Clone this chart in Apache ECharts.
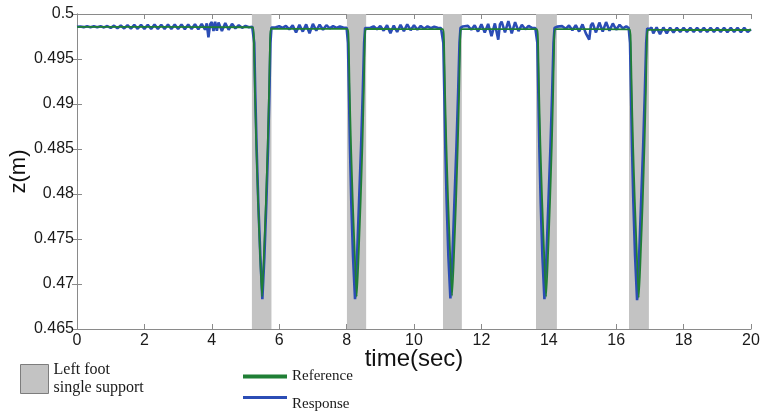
<!DOCTYPE html>
<html>
<head>
<meta charset="utf-8">
<script src="https://cdn.jsdelivr.net/npm/echarts@6/dist/echarts.min.js"></script>
<style>
  html, body { margin: 0; padding: 0; background: #fff; }
  #chart { width: 765px; height: 416px; }
</style>
</head>
<body>
<div id="chart"></div>
<script>
// left foot single support phases (sec)
const shadeStart = [5.19, 8.01, 10.86, 13.62, 16.38];
const shadeEnd   = [5.77, 8.58, 11.42, 14.24, 16.97];

// reference z trajectory
const refT = [0, 2.5, 5.0, 5.22,
  5.25, 5.28, 5.32, 5.37, 5.43, 5.49, 5.55, 5.61, 5.66, 5.70, 5.73, 5.76,
  6.5, 7.3, 8.03,
  8.06, 8.09, 8.13, 8.18, 8.24, 8.30, 8.36, 8.42, 8.47, 8.51, 8.54, 8.57,
  9.5, 10.2, 10.86,
  10.89, 10.92, 10.96, 11.01, 11.07, 11.13, 11.19, 11.25, 11.30, 11.34, 11.37, 11.40,
  12.5, 13.65,
  13.68, 13.71, 13.75, 13.80, 13.86, 13.92, 13.98, 14.04, 14.09, 14.13, 14.16, 14.19,
  15.3, 16.40,
  16.43, 16.46, 16.50, 16.55, 16.61, 16.67, 16.73, 16.79, 16.84, 16.88, 16.91, 16.94,
  18.0, 20.0];
const refZ = [0.49858, 0.49856, 0.49853, 0.49852,
  0.4970, 0.4915, 0.4855, 0.4795, 0.4735, 0.4686, 0.4735, 0.4795, 0.4855, 0.4915, 0.4970, 0.49836,
  0.49835, 0.49835, 0.49835,
  0.4970, 0.4915, 0.4855, 0.4795, 0.4735, 0.4686, 0.4735, 0.4795, 0.4855, 0.4915, 0.4970, 0.49834,
  0.49833, 0.49833, 0.49833,
  0.4970, 0.4915, 0.4855, 0.4795, 0.4735, 0.4687, 0.4735, 0.4795, 0.4855, 0.4915, 0.4970, 0.49833,
  0.49833, 0.49833,
  0.4970, 0.4915, 0.4855, 0.4795, 0.4735, 0.4686, 0.4735, 0.4795, 0.4855, 0.4915, 0.4970, 0.49832,
  0.49832, 0.49830,
  0.4970, 0.4915, 0.4855, 0.4795, 0.4735, 0.4685, 0.4735, 0.4795, 0.4855, 0.4915, 0.4970, 0.49824,
  0.49822, 0.49822];

// measured response
const respT = [0.0, 0.1, 0.2, 0.3, 0.4, 0.5, 0.6, 0.7, 0.8, 0.9,
  1.0, 1.1, 1.2, 1.3, 1.4, 1.5, 1.6, 1.7, 1.8, 1.9,
  2.0, 2.1, 2.2, 2.3, 2.4, 2.5, 2.6, 2.7, 2.8, 2.9,
  3.0, 3.1, 3.2, 3.3, 3.4, 3.5, 3.6, 3.7, 3.8, 3.85, 3.9, 3.95,
  4.0, 4.05, 4.1, 4.15, 4.2, 4.3, 4.4, 4.5, 4.6, 4.7, 4.8, 4.9, 5.0, 5.1, 5.2,
  5.23, 5.26, 5.29, 5.33, 5.38, 5.44, 5.50, 5.56, 5.62, 5.67, 5.71, 5.74, 5.77,
  5.8, 5.9, 6.0, 6.1, 6.2, 6.3, 6.4, 6.5, 6.6, 6.7, 6.8, 6.9,
  7.0, 7.1, 7.2, 7.3, 7.4, 7.5, 7.6, 7.7, 7.8, 7.9, 8.0,
  8.04, 8.07, 8.10, 8.14, 8.19, 8.25, 8.31, 8.37, 8.43, 8.48, 8.52, 8.55, 8.58,
  8.6, 8.7, 8.8, 8.9, 9.0, 9.1, 9.2, 9.3, 9.4, 9.5, 9.6, 9.7, 9.8, 9.9,
  10.0, 10.1, 10.2, 10.3, 10.4, 10.5, 10.6, 10.7, 10.8,
  10.87, 10.90, 10.93, 10.97, 11.02, 11.08, 11.14, 11.20, 11.26, 11.31, 11.35, 11.38, 11.41,
  11.45, 11.5, 11.6, 11.7, 11.8, 11.9, 12.0, 12.1, 12.2, 12.3, 12.4, 12.5, 12.55,
  12.6, 12.7, 12.8, 12.9, 13.0, 13.1, 13.2, 13.3, 13.4, 13.5, 13.6,
  13.66, 13.69, 13.72, 13.76, 13.81, 13.87, 13.93, 13.99, 14.05, 14.10, 14.14, 14.17, 14.20,
  14.25, 14.3, 14.4, 14.5, 14.6, 14.7, 14.8, 14.9, 15.0, 15.1, 15.2, 15.25,
  15.3, 15.4, 15.5, 15.6, 15.7, 15.8, 15.9, 16.0, 16.1, 16.2, 16.3, 16.37,
  16.41, 16.44, 16.47, 16.51, 16.56, 16.62, 16.68, 16.74, 16.80, 16.85, 16.89, 16.92, 16.95,
  16.98, 17.05, 17.1, 17.2, 17.3, 17.4, 17.5, 17.6, 17.7, 17.8, 17.9,
  18.0, 18.1, 18.2, 18.3, 18.4, 18.5, 18.6, 18.7, 18.8, 18.9,
  19.0, 19.1, 19.2, 19.3, 19.4, 19.5, 19.6, 19.7, 19.8, 19.9, 20.0];
const respZ = [0.49858, 0.49862, 0.49854, 0.49863, 0.49853, 0.49864, 0.49852, 0.49865, 0.49851, 0.49866,
  0.49846, 0.49870, 0.49842, 0.49873, 0.49840, 0.49876, 0.49838, 0.49878, 0.49836, 0.49880,
  0.49835, 0.49881, 0.49834, 0.49882, 0.49835, 0.49881, 0.49833, 0.49883, 0.49834, 0.49882,
  0.49834, 0.49884, 0.49832, 0.49883, 0.49834, 0.49886, 0.49830, 0.49890, 0.49826, 0.49895, 0.49740, 0.49885,
  0.49910, 0.49810, 0.49915, 0.49815, 0.49905, 0.49810, 0.49900, 0.49825, 0.49890, 0.49840, 0.49876, 0.49846, 0.49868, 0.49852, 0.49858,
  0.49845, 0.4968, 0.4912, 0.4851, 0.4790, 0.4731, 0.4683, 0.4730, 0.4792, 0.4853, 0.4913, 0.4968, 0.49850,
  0.49865, 0.49852, 0.49864, 0.49845, 0.49868, 0.49830, 0.49875, 0.49795, 0.49880, 0.49805, 0.49885, 0.49785,
  0.49890, 0.49815, 0.49882, 0.49825, 0.49876, 0.49840, 0.49866, 0.49846, 0.49862, 0.49850, 0.49848,
  0.4968, 0.4912, 0.4851, 0.4790, 0.4731, 0.4683, 0.4730, 0.4792, 0.4853, 0.4913, 0.4968, 0.49845, 0.49855,
  0.49858, 0.49845, 0.49863, 0.49830, 0.49868, 0.49815, 0.49875, 0.49785, 0.49872, 0.49800, 0.49880, 0.49810, 0.49885, 0.49820,
  0.49875, 0.49825, 0.49868, 0.49836, 0.49863, 0.49842, 0.49858, 0.49847, 0.49845,
  0.4968, 0.4912, 0.4851, 0.4790, 0.4731, 0.4684, 0.4730, 0.4792, 0.4853, 0.4913, 0.4968, 0.49845, 0.49858,
  0.49862, 0.49848, 0.49868, 0.49825, 0.49875, 0.49805, 0.49885, 0.49795, 0.49890, 0.49755, 0.49895, 0.49715, 0.49885,
  0.49915, 0.49795, 0.49920, 0.49785, 0.49910, 0.49810, 0.49880, 0.49830, 0.49868, 0.49846, 0.49845,
  0.4968, 0.4912, 0.4851, 0.4790, 0.4731, 0.4683, 0.4730, 0.4792, 0.4853, 0.4913, 0.4968, 0.49845, 0.49856,
  0.49860, 0.49846, 0.49865, 0.49835, 0.49872, 0.49820, 0.49876, 0.49805, 0.49885, 0.49785, 0.49715, 0.49875,
  0.49900, 0.49795, 0.49905, 0.49805, 0.49910, 0.49815, 0.49895, 0.49825, 0.49880, 0.49840, 0.49864, 0.49845,
  0.4968, 0.4912, 0.4851, 0.4790, 0.4731, 0.4682, 0.4730, 0.4792, 0.4853, 0.4913, 0.4968, 0.49840, 0.49835,
  0.49830, 0.49848, 0.49785, 0.49852, 0.49775, 0.49850, 0.49785, 0.49848, 0.49795, 0.49846, 0.49800,
  0.49846, 0.49802, 0.49846, 0.49800, 0.49847, 0.49801, 0.49846, 0.49800, 0.49847, 0.49801,
  0.49846, 0.49800, 0.49847, 0.49799, 0.49846, 0.49800, 0.49847, 0.49799, 0.49846, 0.49800, 0.49830];

const zip = (a, b) => a.map((v, i) => [v, b[i]]);

const chart = echarts.init(document.getElementById('chart'), null, { renderer: 'canvas' });

const axisGray = '#8a8a8a';
const labelFont = { fontFamily: 'Liberation Sans, Arial', fontSize: 16, color: '#1a1a1a' };
const serifFont = 'Liberation Serif, Times New Roman';
const shadeName = 'Left foot\nsingle support';

const option = {
  animation: false,
  backgroundColor: '#fff',
  grid: { left: 77, right: 14, top: 14, bottom: 87, containLabel: false, outerBoundsMode: 'none' },
  xAxis: [
    {
      type: 'value', min: 0, max: 20, interval: 2,
      name: 'time(sec)', nameLocation: 'middle', nameGap: 18, nameMoveOverlap: false,
      nameTextStyle: { fontFamily: 'Liberation Sans, Arial', fontSize: 24, color: '#111', verticalAlign: 'top' },
      axisLine: { lineStyle: { color: axisGray, width: 1 } },
      axisTick: { inside: true, length: 5, lineStyle: { color: axisGray } },
      axisLabel: Object.assign({ margin: 4 }, labelFont),
      splitLine: { show: false }
    },
    {
      type: 'value', min: 0, max: 20, interval: 2, position: 'top',
      axisLine: { lineStyle: { color: axisGray, width: 1 } },
      axisTick: { inside: true, length: 5, lineStyle: { color: axisGray } },
      axisLabel: { show: false },
      splitLine: { show: false }
    }
  ],
  yAxis: [
    {
      type: 'value', min: 0.465, max: 0.5, interval: 0.005,
      name: 'z(m)', nameLocation: 'middle', nameGap: 47, nameRotate: 90, nameMoveOverlap: false,
      nameTextStyle: { fontFamily: 'Liberation Sans, Arial', fontSize: 22, color: '#111' },
      axisLine: { show: true, lineStyle: { color: axisGray, width: 1 } },
      axisTick: { show: true, inside: true, length: 5, lineStyle: { color: axisGray } },
      axisLabel: Object.assign({ margin: 3 }, labelFont),
      splitLine: { show: false }
    },
    {
      type: 'value', min: 0.465, max: 0.5, interval: 0.005, position: 'right',
      axisLine: { show: true, lineStyle: { color: axisGray, width: 1 } },
      axisTick: { show: true, inside: true, length: 5, lineStyle: { color: axisGray } },
      axisLabel: { show: false },
      splitLine: { show: false }
    }
  ],
  legend: [
    {
      left: 15, top: 356, itemWidth: 28, itemHeight: 29,
      data: [{ name: shadeName, icon: 'rect',
        itemStyle: { color: '#c3c3c3', borderColor: '#7d7d7d', borderWidth: 1 } }],
      textStyle: { fontFamily: serifFont, fontSize: 16, color: '#1a1a1a', lineHeight: 18 }
    },
    {
      left: 238, top: 364, itemWidth: 44, itemHeight: 4, itemGap: 0,
      data: [{ name: 'Reference', icon: 'rect' }],
      textStyle: { fontFamily: serifFont, fontSize: 15, color: '#1a1a1a' }
    },
    {
      left: 238, top: 378, itemWidth: 44, itemHeight: 3, itemGap: 0,
      data: [{ name: 'Response', icon: 'rect' }],
      formatter: '\n{name}',
      textStyle: { fontFamily: serifFont, fontSize: 15, color: '#1a1a1a', lineHeight: 14 }
    }
  ],
  series: [
    {
      name: shadeName, type: 'line', data: [], z: 1,
      itemStyle: { color: '#c3c3c3' },
      markArea: {
        silent: true,
        itemStyle: { color: '#c3c3c3', opacity: 1 },
        data: shadeStart.map((s, i) => [{ xAxis: s }, { xAxis: shadeEnd[i] }])
      }
    },
    {
      name: 'Response', type: 'line', z: 2,
      data: zip(respT, respZ),
      showSymbol: false, smooth: false,
      itemStyle: { color: '#2b4db5' },
      lineStyle: { color: '#2b4db5', width: 2.6 }
    },
    {
      name: 'Reference', type: 'line', z: 3,
      data: zip(refT, refZ),
      showSymbol: false, smooth: 0.2,
      itemStyle: { color: '#1f7f35' },
      lineStyle: { color: '#1f7f35', width: 1.8 }
    }
  ]
};

chart.setOption(option);
</script>
</body>
</html>
